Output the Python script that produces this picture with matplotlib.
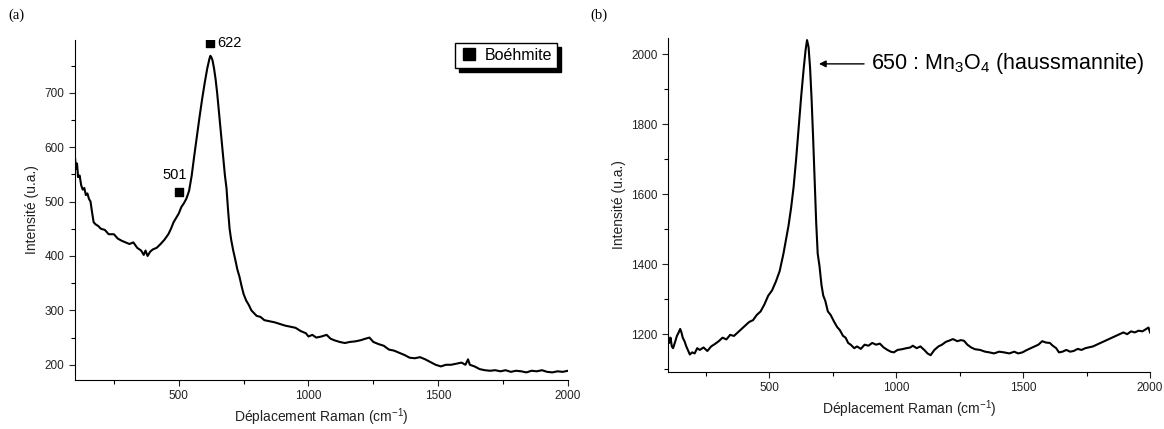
import numpy as np
import matplotlib
matplotlib.use("Agg")
import matplotlib.pyplot as plt
from matplotlib.ticker import MultipleLocator
from matplotlib.lines import Line2D

plt.rcParams['font.family'] = ['Liberation Sans', 'DejaVu Sans']
plt.rcParams['mathtext.fontset'] = 'custom'
plt.rcParams['mathtext.rm'] = 'Liberation Sans'
plt.rcParams['mathtext.it'] = 'Liberation Sans:italic'

# (a) spectre boehmite
raman_a = [100, 104, 108, 112, 118, 124, 130, 136, 142, 148, 154, 160, 166, 172, 180, 190,
           200, 215, 230, 250, 265, 280, 295, 310, 325, 340, 355, 365, 372, 380, 390, 400,
           415, 430, 445, 460, 470, 480, 490, 500, 510, 520, 530, 540, 550, 560, 570, 580,
           590, 600, 610, 618, 622, 626, 630, 636, 642, 648, 654, 660, 666, 672, 678, 684,
           690, 696, 702, 710, 718, 726, 734, 742, 750, 760, 770, 780, 790, 800, 815, 830,
           850, 870, 890, 910, 930, 950, 970, 990, 1000, 1015, 1030, 1050, 1070, 1085, 1100,
           1120, 1140, 1160, 1180, 1200, 1220, 1235, 1250, 1270, 1290, 1310, 1330, 1350,
           1370, 1390, 1410, 1430, 1450, 1470, 1490, 1510, 1530, 1550, 1570, 1590, 1605,
           1615, 1622, 1640, 1660, 1680, 1700, 1720, 1740, 1760, 1780, 1800, 1820, 1840,
           1860, 1880, 1900, 1920, 1940, 1960, 1980, 2000]
int_a = [582, 560, 570, 545, 548, 530, 522, 525, 512, 515, 505, 500, 480, 462, 458, 455,
         450, 448, 440, 440, 432, 428, 425, 422, 425, 415, 410, 402, 410, 400, 408, 412,
         415, 422, 430, 440, 450, 462, 470, 478, 490, 497, 506, 520, 548, 585, 620, 655,
         688, 718, 745, 762, 768, 765, 760, 745, 725, 700, 670, 640, 610, 578, 548, 525,
         485, 450, 430, 410, 393, 375, 362, 345, 330, 318, 310, 300, 295, 290, 288, 282,
         280, 278, 275, 272, 270, 268, 262, 258, 252, 255, 250, 252, 255, 248, 245,
         242, 240, 242, 243, 245, 248, 250, 242, 238, 235, 228, 226, 222,
         218, 213, 212, 214, 210, 205, 200, 197, 200, 200, 202, 204, 200,
         210, 200, 197, 192, 190, 189, 190, 188, 190, 187, 189, 188, 186,
         189, 188, 190, 187, 186, 188, 187, 189]

# (b) spectre Mn3O4
raman_b = [100, 105, 110, 115, 120, 128, 135, 142, 148, 153, 158, 165, 172, 180, 186, 195,
           205, 215, 225, 240, 255, 270, 285, 300, 315, 330, 345, 360, 375, 390, 405, 420,
           435, 450, 465, 480, 495, 510, 525, 540, 555, 565, 575, 585, 595, 605, 615, 625,
           635, 642, 648, 654, 660, 666, 672, 678, 684, 690, 697, 705, 712, 720, 730, 741,
           755, 767, 777, 790, 800, 810, 820, 834, 845, 860, 875, 890, 905, 920, 935, 950,
           965, 978, 990, 1005, 1022, 1040, 1055, 1065, 1080, 1095, 1110, 1123, 1135, 1150,
           1166, 1180, 1195, 1210, 1223, 1240, 1255, 1267, 1280, 1295, 1310, 1330, 1350,
           1367, 1385, 1405, 1425, 1445, 1465, 1480, 1497, 1515, 1530, 1545, 1560, 1575,
           1590, 1605, 1615, 1630, 1641, 1655, 1670, 1685, 1699, 1715, 1730, 1745, 1757,
           1775, 1790, 1805, 1820, 1835, 1850, 1865, 1880, 1895, 1910, 1925, 1940, 1955,
           1970, 1985, 1994, 2000]
int_b = [1195, 1175, 1190, 1165, 1160, 1178, 1195, 1205, 1215, 1205, 1190, 1180, 1165, 1152, 1142, 1148,
         1145, 1160, 1155, 1162, 1152, 1165, 1172, 1180, 1190, 1185, 1198, 1195, 1205, 1215, 1225, 1235,
         1240, 1255, 1265, 1285, 1310, 1325, 1350, 1380, 1430, 1470, 1510, 1560, 1620, 1700, 1790, 1880,
         1960, 2010, 2040, 2020, 1960, 1870, 1760, 1640, 1520, 1430, 1395, 1340, 1310, 1295, 1265, 1255,
         1235, 1220, 1212, 1195, 1190, 1175, 1170, 1160, 1165, 1158, 1170, 1167, 1175, 1170, 1173, 1162,
         1155, 1150, 1148, 1155, 1157, 1160, 1162, 1167, 1160, 1165, 1155, 1145, 1140, 1155,
         1165, 1170, 1178, 1182, 1186, 1180, 1183, 1181, 1170, 1162, 1157, 1155, 1150,
         1148, 1145, 1150, 1148, 1145, 1150, 1145, 1148, 1155, 1160, 1165, 1170, 1180,
         1176, 1175, 1168, 1160, 1148, 1150, 1155, 1150, 1152, 1158, 1155, 1160, 1162,
         1165, 1170, 1175, 1180, 1185, 1190, 1195, 1200, 1205, 1200, 1208, 1205, 1210,
         1208, 1215, 1219, 1205]

# pics indexes (boehmite)
pics_x = [501, 622]
pics_y = [518, 791]
pics_txt = ['501', '622']

fig = plt.figure(figsize=(11.64, 4.29), dpi=100)
ax1 = fig.add_axes([0.0644, 0.1142, 0.4235, 0.7925])
ax2 = fig.add_axes([0.5739, 0.1329, 0.4141, 0.7786])

for ax in (ax1, ax2):
    ax.spines['top'].set_visible(False)
    ax.spines['right'].set_visible(False)
    ax.set_xlim(100, 2000)
    ax.xaxis.set_major_locator(MultipleLocator(500))
    ax.xaxis.set_minor_locator(MultipleLocator(250))
    ax.tick_params(which='major', length=4, width=0.8, labelsize=8.5, colors='#222222')
    ax.tick_params(which='minor', length=3, width=0.8)
    ax.set_xlabel('Déplacement Raman (cm$^{-1}$)', fontsize=10, color='#222222', labelpad=3)
    ax.set_ylabel('Intensité (u.a.)', fontsize=10, color='#222222')

# --- (a)
ax1.plot(raman_a, int_a, color='black', lw=1.5)
ax1.set_ylim(172, 797)
ax1.yaxis.set_major_locator(MultipleLocator(100))
ax1.yaxis.set_minor_locator(MultipleLocator(50))
ax1.scatter(pics_x, pics_y, marker='s', s=30, color='black', zorder=5)
ax1.text(pics_x[0] - 15, pics_y[0] + 18, pics_txt[0], fontsize=10.5, ha='center', va='bottom')
ax1.text(pics_x[1] + 28, pics_y[1], pics_txt[1], fontsize=10.5, ha='left', va='center')
handle = Line2D([], [], marker='s', color='black', ls='none', markersize=8)
ax1.legend([handle], ['Boéhmite'], loc='upper right', bbox_to_anchor=(0.985, 1.0),
           fancybox=False, edgecolor='black', framealpha=1, fontsize=11.5,
           handletextpad=0.4, borderpad=0.3, handlelength=1.2, borderaxespad=0.2,
           shadow={'color': 'black', 'alpha': 1, 'ox': 3, 'oy': -3})

# --- (b)
ax2.plot(raman_b, int_b, color='black', lw=1.5)
ax2.set_ylim(1092, 2046)
ax2.yaxis.set_major_locator(MultipleLocator(200))
ax2.yaxis.set_minor_locator(MultipleLocator(100))
ax2.annotate('650 : Mn$_3$O$_4$ (haussmannite)', xy=(695, 1972), xytext=(900, 1972),
             fontsize=15.5, va='center', ha='left',
             arrowprops=dict(arrowstyle='-|>', color='black', lw=1, mutation_scale=10,
                             shrinkB=0, shrinkA=3))

fig.text(0.007, 0.955, '(a)', family='Liberation Serif', fontsize=10.5)
fig.text(0.507, 0.955, '(b)', family='Liberation Serif', fontsize=10.5)

fig.savefig('out.png', dpi=100)
